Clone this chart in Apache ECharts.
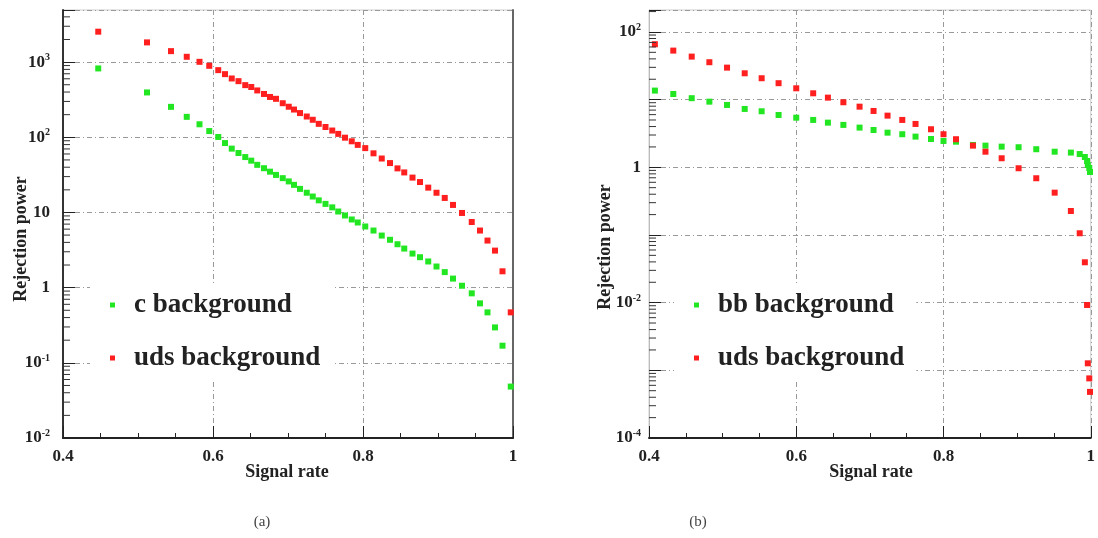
<html style="height: 100%">
<meta http-equiv=Content-Type content="text/html;charset=utf-8" />
<script type="text/javascript" src="https://cdn.jsdelivr.net/npm/echarts/dist/echarts.min.js"></script>

<script type="text/javascript">
	// (a) signal rate and rejection power
	var signalA = [0.447, 0.512, 0.544, 0.565, 0.582, 0.595, 0.607, 0.616, 0.625, 0.634, 0.643, 0.651, 0.659, 0.668, 0.676, 0.684,
		0.693, 0.701, 0.708, 0.716, 0.725, 0.733, 0.741, 0.750, 0.759, 0.767, 0.776, 0.785, 0.793, 0.803, 0.814, 0.825,
		0.836, 0.846, 0.855, 0.866, 0.876, 0.887, 0.898, 0.909, 0.920, 0.932, 0.945, 0.956, 0.966, 0.976, 0.986, 0.997];
	var cBkg = [824, 395, 254, 187, 149, 121, 101, 83.8, 70.7, 61.8, 54.6, 48.9, 43.0, 38.8, 34.9, 31.6,
		28.6, 25.9, 23.3, 20.6, 18.3, 16.3, 14.5, 13.0, 11.7, 10.3, 9.12, 8.07, 7.36, 6.51, 5.75, 4.93,
		4.33, 3.78, 3.31, 2.84, 2.54, 2.23, 1.91, 1.61, 1.32, 1.06, 0.84, 0.618, 0.469, 0.296, 0.169, 0.0483];
	var udsA = [2540, 1830, 1400, 1177, 1009, 893, 782, 692, 606, 558, 494, 467, 420, 377, 344, 325,
		284, 255, 234, 210, 189, 171, 151, 137, 123, 111, 98.8, 88.5, 79.2, 71.8, 61.2, 52.2,
		45.4, 38.6, 34.1, 29.1, 25.4, 21.4, 18.3, 15.6, 12.6, 9.85, 7.47, 5.75, 4.23, 3.11, 1.65, 0.469];

	// (b)
	var signalB = [0.408, 0.433, 0.458, 0.482, 0.506, 0.530, 0.553, 0.576, 0.600, 0.623, 0.643, 0.664, 0.686, 0.705, 0.724, 0.744,
		0.762, 0.783, 0.800, 0.817, 0.840, 0.857, 0.879, 0.902, 0.926, 0.951, 0.973, 0.985, 0.992, 0.995, 0.996, 0.998, 0.999];
	var bbBkg = [13.6, 12.1, 10.5, 9.33, 8.34, 7.28, 6.73, 5.93, 5.41, 5.01, 4.57, 4.23, 3.86, 3.56, 3.25, 3.08,
		2.84, 2.62, 2.45, 2.39, 2.14, 2.09, 2.02, 1.98, 1.85, 1.70, 1.65, 1.57, 1.42, 1.24, 1.08, 0.977, 0.853];
	var udsB = [65.8, 53.0, 43.2, 35.7, 29.7, 24.5, 20.7, 17.5, 14.7, 12.4, 10.7, 9.14, 7.87, 6.80, 5.80, 5.01,
		4.37, 3.65, 3.08, 2.60, 2.09, 1.70, 1.36, 0.968, 0.689, 0.422, 0.226, 0.106, 0.0395, 0.00924, 0.00127, 0.00076, 0.00048];

	var xTicks = [0.4, 0.6, 0.8, 1];
	var legendA = ['c background', 'uds background'];
	var legendB = ['bb background', 'uds background'];

	var serif = 'Liberation Serif';
	var RED = '#ff1f1f', GREEN = '#22e622';

	function pairs(xs, ys) {
		var out = [];
		for (var i = 0; i < xs.length; i++) out.push([xs[i], ys[i]]);
		return out;
	}

	// 2..9 x 10^n, only for the small ticks on the log axis
	function minorVals(lo, hi) {
		var out = [];
		for (var e = Math.floor(Math.log10(lo)); e <= Math.ceil(Math.log10(hi)); e++) {
			for (var k = 2; k <= 9; k++) {
				var v = k * Math.pow(10, e);
				if (v > lo && v < hi) out.push([0.4, v]);
			}
		}
		return out;
	}

	function logLabel(everyOther) {
		return function (v) {
			var l = Math.log10(v), e = Math.round(l);
			if (Math.abs(l - e) > 0.01) return '';
			if (everyOther && e % 2 !== 0) return '';
			if (e === 0) return '1';
			if (e === 1) return '10';
			return '{b|10}{s|' + e + '}';
		};
	}

	function xAxisCfg(idx) {
		return {
			gridIndex: idx, type: 'value', min: 0.4, max: 1, interval: 0.2,
			axisLine: { lineStyle: { color: '#222', width: 2 } },
			axisTick: { inside: true, length: 12, lineStyle: { color: '#222' } },
			minorTick: { show: true, splitNumber: 4, length: 5, lineStyle: { color: '#222' } },
			axisLabel: {
				margin: 10, fontFamily: serif, fontWeight: 'bold', fontSize: 17, color: '#222',
				formatter: function (v) { return xTicks.indexOf(+v.toFixed(1)) >= 0 ? String(+v.toFixed(1)) : ''; }
			},
			splitLine: { show: true, lineStyle: { color: '#999', type: [5, 3, 1, 3] } }
		};
	}

	function yAxisCfg(idx, lo, hi, margin, everyOther, lineColor, lineWidth) {
		return {
			gridIndex: idx, type: 'log', logBase: 10, min: lo, max: hi,
			axisLine: { show: true, lineStyle: { color: lineColor, width: lineWidth } },
			axisTick: { show: true, inside: true, length: 12, lineStyle: { color: '#222' } },
			axisLabel: {
				margin: margin, formatter: logLabel(everyOther),
				fontFamily: serif, fontWeight: 'bold', fontSize: 17, color: '#222',
				rich: {
					b: { fontFamily: serif, fontWeight: 'bold', fontSize: 17, color: '#222' },
					s: { fontFamily: serif, fontWeight: 'bold', fontSize: 10, color: '#222', padding: [0, 0, 9, 0] }
				}
			},
			splitLine: { show: true, lineStyle: { color: '#999', type: [5, 3, 1, 3] } }
		};
	}

	function minorTickSeries(idx, lo, hi) {
		return {
			type: 'custom', xAxisIndex: idx, yAxisIndex: idx, silent: true, z: 5,
			data: minorVals(lo, hi),
			renderItem: function (params, api) {
				var p = api.coord([api.value(0), api.value(1)]);
				return {
					type: 'line',
					shape: { x1: p[0], y1: p[1], x2: p[0] + 7, y2: p[1] },
					style: { stroke: '#333', lineWidth: 1 }
				};
			}
		};
	}

	function pointSeries(name, idx, xs, ys, color) {
		return {
			type: 'scatter', name: name, xAxisIndex: idx, yAxisIndex: idx,
			symbol: 'rect', symbolSize: 6,
			itemStyle: { color: color, opacity: 1 },
			data: pairs(xs, ys)
		};
	}

	function legendCfg(left, names) {
		return {
			left: left, top: 283, orient: 'vertical', data: names,
			icon: 'rect', itemWidth: 5, itemHeight: 5, itemGap: 25,
			backgroundColor: '#fff', padding: [8, 12, 8, 20],
			textStyle: { fontFamily: serif, fontWeight: 'bold', fontSize: 27, lineHeight: 28, color: '#222', padding: [0, 0, 0, 14] }
		};
	}

	function titleText(x, y, text, rot) {
		return {
			type: 'text', x: x, y: y, rotation: rot || 0,
			style: { text: text, font: 'bold 18px "Liberation Serif"', fill: '#222', align: 'center', verticalAlign: 'middle' }
		};
	}

	window.onload = function () {
		var myChart = echarts.init(document.getElementById('echart'));
		var loA = 0.01, hiA = 4935, loB = 0.0001, hiB = 211;

		myChart.setOption({
			animation: false,
			backgroundColor: '#fff',
			grid: [
				{ left: 63, top: 10, width: 450, height: 428, show: true, borderColor: '#ccc', borderWidth: 1 },
				{ left: 649, top: 10, width: 449, height: 428, show: true, borderColor: '#ccc', borderWidth: 1 }
			],
			xAxis: [xAxisCfg(0), xAxisCfg(1)],
			yAxis: [
				yAxisCfg(0, loA, hiA, 13, false, '#333', 2),
				yAxisCfg(1, loB, hiB, 8, true, '#bbb', 1),
				{
					gridIndex: 0, type: 'value', position: 'right',
					axisLine: { show: true, lineStyle: { color: '#666', width: 2 } },
					axisTick: { show: false }, axisLabel: { show: false }, splitLine: { show: false }
				}
			],
			legend: [legendCfg(90, legendA), legendCfg(674, legendB)],
			series: [
				minorTickSeries(0, loA, hiA),
				minorTickSeries(1, loB, hiB),
				pointSeries('c background', 0, signalA, cBkg, GREEN),
				pointSeries('uds background', 0, signalA, udsA, RED),
				pointSeries('bb background', 1, signalB, bbBkg, GREEN),
				pointSeries('uds background', 1, signalB, udsB, RED)
			],
			graphic: [
				titleText(287, 472, 'Signal rate'),
				titleText(871, 472, 'Signal rate'),
				titleText(21, 239, 'Rejection power', Math.PI / 2),
				titleText(605, 247, 'Rejection power', Math.PI / 2),
				{ type: 'text', x: 262, y: 522, style: { text: '(a)', font: '15px "Liberation Serif"', fill: '#444', align: 'center', verticalAlign: 'middle' } },
				{ type: 'text', x: 698, y: 522, style: { text: '(b)', font: '15px "Liberation Serif"', fill: '#444', align: 'center', verticalAlign: 'middle' } }
			]
		});
	};
</script>

<body style="height: 100%; margin: 0">
	<div id="echart" style="width: 1098px; height: 538px"></div>
</body>
</html>
